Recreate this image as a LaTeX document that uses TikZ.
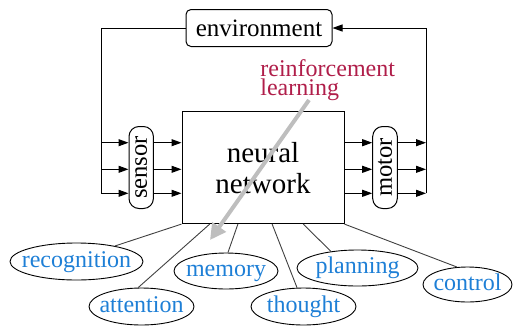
\documentclass[tikz,border=0pt]{standalone}
\usepackage{fontspec}
\setmainfont{Liberation Serif}
\usetikzlibrary{arrows.meta,shapes.geometric,calc}
\definecolor{redtxt}{RGB}{176,30,74}
\definecolor{bluetxt}{RGB}{30,127,214}
\definecolor{arrgray}{RGB}{190,190,190}
\begin{document}
\begin{tikzpicture}[x=0.5pt,y=-0.5pt,
  box/.style={draw, line width=0.5pt, inner sep=0pt},
  arr/.style={-{Triangle[length=5pt,width=3.5pt]}, line width=0.5pt},
  ell/.style={draw, ellipse, line width=0.45pt, inner sep=0pt, text=bluetxt,
    font=\fontsize{12}{14}\selectfont, text height=8.2pt, text depth=2.6pt},
  ln/.style={line width=0.45pt, draw=black!75}]
\useasboundingbox (0,0) rectangle (513,327);

% main boxes
\node[box, rounded corners=2.5pt, minimum width=73pt, minimum height=18.5pt,
  font=\fontsize{12.5}{14}\selectfont] (env) at (259,28) {environment};
\node[box, minimum width=81pt, minimum height=56pt, align=center,
  font=\fontsize{14.5}{15.5}\selectfont] (nn) at (263,167.6) {neural\\network};
\node[box, rounded corners=5pt, rotate=90, minimum width=41pt, minimum height=12.2pt,
  font=\fontsize{12.3}{14}\selectfont] (sensor) at (141.2,167.5) {sensor};
\node[box, rounded corners=5pt, rotate=90, minimum width=41pt, minimum height=12.3pt,
  font=\fontsize{12.3}{14}\selectfont] (motor) at (385,167.5) {motor};

% loop coordinates
\coordinate (lt) at (101,28);
\coordinate (l1) at (101,142.7);
\coordinate (l2) at (101,169.3);
\coordinate (l3) at (101,193.3);
\coordinate (rt) at (426,28);
\coordinate (r1) at (426,142.7);
\coordinate (r2) at (426,169.3);
\coordinate (r3) at (426,193.3);

\draw[line width=0.5pt] (env.west) -- (lt) -- (l3);
\draw[arr] (r3) -- (rt) -- (env.east);

\foreach \i in {1,2,3}{
  \draw[arr] (l\i) -- (sensor.north |- l\i);
  \draw[arr] (sensor.south |- l\i) -- (nn.west |- l\i);
  \draw[arr] (nn.east |- r\i) -- (motor.north |- r\i);
  \draw[arr] (motor.south |- r\i) -- (r\i);
}

% ellipses
\node[ell, minimum width=66.5pt, minimum height=18.5pt] (rec) at (76.5,261.5) {\makebox[0pt]{recognition}};
\node[ell, minimum width=52pt, minimum height=18pt] (mem) at (226,271) {\makebox[0pt]{memory}};
\node[ell, minimum width=60.5pt, minimum height=18pt] (pla) at (357.5,268) {\makebox[0pt]{planning}};
\node[ell, minimum width=44.5pt, minimum height=17.5pt] (con) at (467.5,284.5) {\makebox[0pt]{control}};
\node[ell, minimum width=52.5pt, minimum height=18.5pt] (att) at (141.5,306.5) {\makebox[0pt]{attention}};
\node[ell, minimum width=52.5pt, minimum height=18.5pt] (tho) at (303.5,306.5) {\makebox[0pt]{thought}};

\draw[ln] (nn.south west) -- (rec.22);
\draw[ln] ($(nn.south west)!0.173!(nn.south east)$) -- (att.100);
\draw[ln] ($(nn.south west)!0.346!(nn.south east)$) -- (mem.84);
\draw[ln] ($(nn.south west)!0.556!(nn.south east)$) -- (tho.109);
\draw[ln] ($(nn.south west)!0.747!(nn.south east)$) -- (pla.148);
\draw[ln] (nn.south east) -- (con.121);

% reinforcement learning
\node[anchor=base west, align=left, inner sep=0pt, text=redtxt,
  font=\fontsize{12}{9.5}\selectfont] (rl) at (260,95) {reinforcement\\learning};
\coordinate (gs) at (309,100);
\coordinate (ge) at (210,240);
\draw[-{Triangle[length=8pt,width=8pt]}, line width=2pt, draw=arrgray, fill=arrgray] (gs) -- (ge);
\end{tikzpicture}
\end{document}
